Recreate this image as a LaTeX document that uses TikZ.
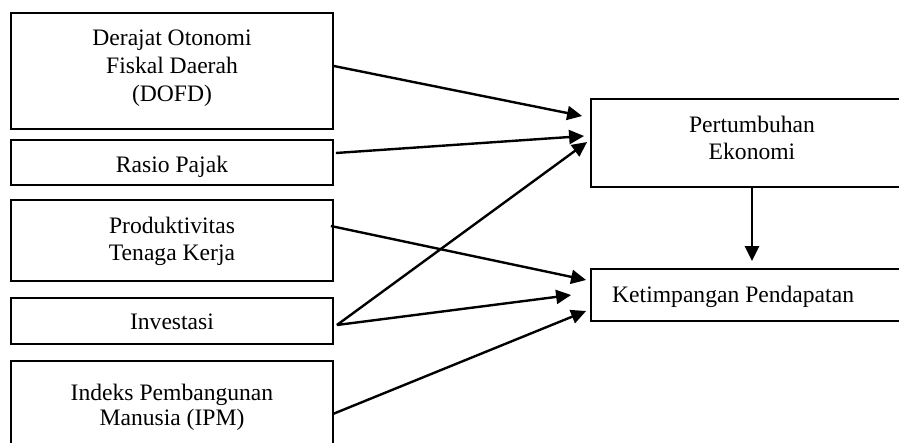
\documentclass[tikz,border=0pt]{standalone}
\usepackage{fontspec}
\setmainfont{Liberation Serif}
\usetikzlibrary{arrows.meta}
\tikzset{
  box/.style={draw=black, line width=1.8pt, rectangle, inner sep=0pt, minimum width=322pt},
  lbl/.style={inner sep=0pt, align=center, anchor=north, font=\fontsize{23.6}{28}\selectfont},
  arr/.style={line width=2.4pt, -{Triangle[length=15pt,width=14pt]}}
}
\begin{document}
\begin{tikzpicture}[x=1pt,y=-1pt]
\useasboundingbox (0,0) rectangle (899,442);
\clip (0,0) rectangle (899,442);
\fill[white] (0,0) rectangle (899,442);
% left boxes
\node[box, minimum height=116pt] (dofd) at (172,71) {};
\node[box, minimum height=45pt] (rasio) at (172,162.5) {};
\node[box, minimum height=81pt] (prod) at (172,240.5) {};
\node[box, minimum height=46pt] (inv) at (172,321) {};
\node[box, minimum height=110pt] (ipm) at (172,416) {};
% right boxes
\node[box, minimum height=88pt] (pe) at (752,143) {};
\node[box, minimum height=52pt] (kp) at (752,295) {};
% labels
\node[lbl] (tdofd) at (172,25.4) {\strut Derajat Otonomi\\\strut Fiskal Daerah\\\strut (DOFD)};
\node[lbl] (trasio) at (172,152.4) {\strut Rasio Pajak};
\node[lbl] (tprod) at (172,213.4) {\strut Produktivitas\\[-1pt]\strut Tenaga Kerja};
\node[lbl] (tinv) at (172,309.4) {\strut Investasi};
\node[lbl] (tipm) at (172,381) {\strut Indeks Pembangunan\\[-3pt]\strut Manusia (IPM)};
\node[lbl] (tpe) at (752,112.4) {\strut Pertumbuhan\\[-1pt]\strut Ekonomi};
\node[lbl, anchor=north west] (tkp) at (612,282.4) {\strut Ketimpangan Pendapatan};
% connectors
\draw[arr] ([yshift=5pt]dofd.east) -- ([xshift=-8pt,yshift=27pt]pe.west);
\draw[arr] ([xshift=2pt,yshift=9.5pt]rasio.east) -- ([xshift=-6pt,yshift=7pt]pe.west);
\draw[arr] ([xshift=3pt,yshift=-4pt]inv.east) -- ([xshift=-3pt,yshift=1pt]pe.west);
\draw[arr] ([xshift=-3pt,yshift=14.5pt]prod.east) -- ([xshift=-4pt,yshift=15pt]kp.west);
\draw[arr] ([xshift=3pt,yshift=-4pt]inv.east) -- ([xshift=-19pt]kp.west);
\draw[arr] ([xshift=-1pt,yshift=2pt]ipm.east) -- ([xshift=-4pt,yshift=-16pt]kp.west);
\draw[arr, shorten >=7pt] (pe.south) -- (kp.north);
\end{tikzpicture}
\end{document}
